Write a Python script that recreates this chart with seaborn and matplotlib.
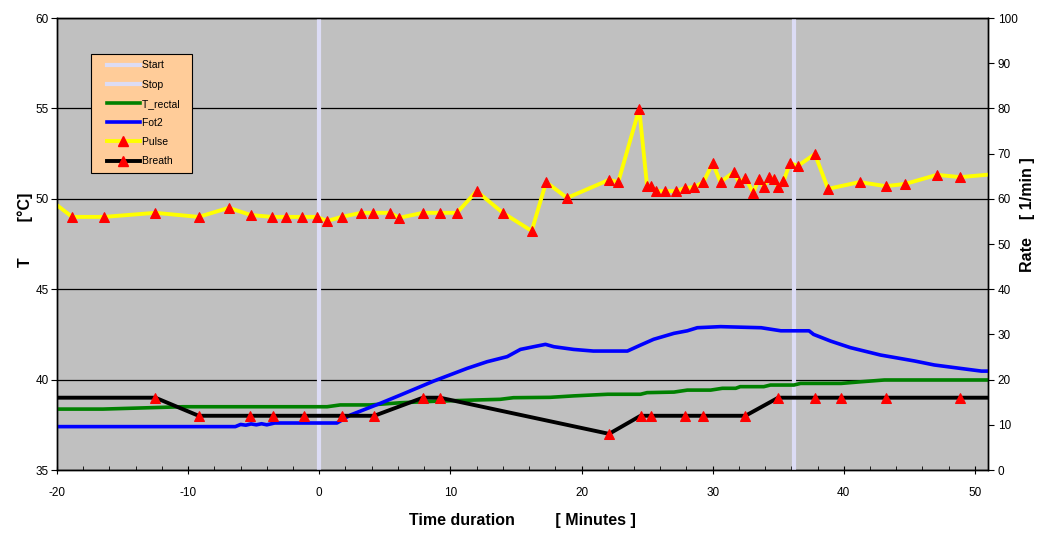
import pandas as pd
import seaborn as sns
import matplotlib.pyplot as plt
from matplotlib.lines import Line2D
from matplotlib.legend_handler import HandlerLine2D
from matplotlib.ticker import MultipleLocator

# event markers (minutes)
start_t = 0.0
stop_t = 36.2

# rectal temperature, degC
rectal_t = [-20.5, -16.5, -10.4, 0.6, 1.6, 3.9, 6.2, 8.7, 11.8, 13.8, 14.8, 17.6,
            19.4, 22.0, 24.5, 25.0, 27.05, 28.07, 29.85, 30.74, 31.76, 32.1, 33.9,
            34.4, 36.2, 36.7, 39.8, 41.3, 43.1, 52.0]
rectal_temp = [38.37, 38.37, 38.5, 38.5, 38.6, 38.6, 38.72, 38.8, 38.87, 38.91, 39.0, 39.02,
               39.1, 39.19, 39.19, 39.28, 39.31, 39.42, 39.42, 39.52, 39.52, 39.61, 39.61,
               39.7, 39.7, 39.79, 39.79, 39.88, 39.98, 39.98]

# Fot2 temperature, degC
fot2_t = [-20.5, -6.4, -6.0, -5.6, -5.2, -4.8, -4.4, -4.0, -3.4, 1.35, 2.37, 4.66, 6.2,
          8.73, 11.27, 12.8, 14.33, 15.34, 16.35, 17.25, 17.89, 19.4, 20.9, 23.5, 24.5,
          25.5, 27.05, 28.07, 28.83, 30.6, 33.7, 35.2, 37.35, 37.7, 39.0, 40.5, 42.8,
          45.4, 46.9, 48.9, 50.5, 52.0]
fot2_temp = [37.40, 37.40, 37.52, 37.48, 37.55, 37.5, 37.56, 37.5, 37.6, 37.6, 38.04, 38.69, 39.15,
             39.92, 40.62, 40.99, 41.27, 41.67, 41.82, 41.95, 41.82, 41.67, 41.58, 41.58, 41.91,
             42.23, 42.56, 42.7, 42.87, 42.93, 42.87, 42.7, 42.7, 42.5, 42.13, 41.77, 41.36,
             41.03, 40.81, 40.62, 40.47, 40.47]

# pulse, 1/min
pulse_t = [-20.8, -18.85, -16.4, -12.5, -9.2, -6.9, -5.2, -3.6, -2.5, -1.3, -0.2, 0.6, 1.7,
           3.2, 4.1, 5.4, 6.1, 7.9, 9.2, 10.5, 12.0, 14.0, 16.2, 17.3, 18.9, 22.1, 22.8,
           24.4, 25.0, 25.3, 25.7, 26.4, 27.2, 27.9, 28.6, 29.3, 30.0, 30.6, 31.6, 32.0,
           32.5, 33.1, 33.5, 33.9, 34.3, 34.7, 35.0, 35.4, 35.9, 36.5, 37.8, 38.8, 41.2,
           43.2, 44.7, 47.1, 48.9, 52.0]
pulse_rate = [60.4, 56.0, 56.0, 56.9, 56.0, 58.0, 56.4, 56.0, 56.0, 56.0, 56.0, 55.1, 56.0,
              56.9, 56.9, 56.9, 55.8, 56.9, 56.9, 56.9, 61.7, 56.9, 52.9, 63.7, 60.2, 64.2, 63.7,
              79.9, 62.8, 62.8, 61.7, 61.7, 61.7, 62.4, 62.6, 63.7, 67.9, 63.7, 65.9, 63.7,
              64.6, 61.3, 64.4, 62.6, 64.8, 64.4, 62.6, 63.9, 67.9, 67.3, 69.9, 62.2, 63.7,
              62.8, 63.3, 65.3, 64.8, 65.6]

# breath, 1/min
breath_t = [-21.0, -12.5, -9.2, -5.3, -3.5, -1.2, 1.7, 4.2, 7.9, 9.2, 22.1, 24.5, 25.3,
            27.9, 29.3, 32.5, 35.0, 37.8, 39.8, 43.2, 48.9, 52.0]
breath_rate = [16, 16, 12, 12, 12, 12, 12, 12, 16, 16, 8, 12, 12,
               12, 12, 12, 16, 16, 16, 16, 16, 16]

plt.rcParams['font.family'] = ['Liberation Sans', 'DejaVu Sans']
plt.rcParams['axes.unicode_minus'] = False

fig = plt.figure(figsize=(10.42, 5.36), dpi=100)
ax1 = fig.add_axes([0.0547, 0.1231, 0.8935, 0.8433])
ax1.set_facecolor('#C0C0C0')
ax2 = ax1.twinx()
ax2.patch.set_visible(False)

ev_col = '#DCDCF5'
ax1.axvline(start_t, color=ev_col, lw=3, zorder=3)
ax1.axvline(stop_t, color=ev_col, lw=3, zorder=3)

sns.lineplot(x=rectal_t, y=rectal_temp, ax=ax1, color='#008000', lw=2.6, sort=False, zorder=4)
sns.lineplot(x=fot2_t, y=fot2_temp, ax=ax1, color='#0000FF', lw=2.6, sort=False, zorder=5)

mk = dict(marker='^', markersize=6.5, markerfacecolor='#FF0000', markeredgecolor='#FF0000')
sns.lineplot(x=pulse_t, y=pulse_rate, ax=ax2, color='#FFFF00', lw=2.8, sort=False, **mk)
sns.lineplot(x=breath_t, y=breath_rate, ax=ax2, color='#000000', lw=2.8, sort=False, **mk)

ax1.set_xlim(-20, 51)
ax1.set_ylim(35, 60)
ax2.set_ylim(0, 100)
ax1.xaxis.set_major_locator(MultipleLocator(10))
ax1.xaxis.set_minor_locator(MultipleLocator(2))
ax1.yaxis.set_major_locator(MultipleLocator(5))
ax2.yaxis.set_major_locator(MultipleLocator(10))

ax1.grid(axis='y', color='black', lw=0.9)
ax1.set_axisbelow(True)
for ax in (ax1, ax2):
    for s in ax.spines.values():
        s.set_color('black')
        s.set_linewidth(1.0)

ax1.tick_params(axis='x', which='major', direction='inout', length=6, labelsize=8.5, pad=9)
ax1.tick_params(axis='x', which='minor', direction='in', length=3)
ax1.tick_params(axis='y', direction='out', length=4, labelsize=8.5, pad=2)
ax2.tick_params(axis='y', direction='out', length=4, labelsize=8.5, pad=3)

ax1.set_xlabel('Time duration         [ Minutes ]', fontsize=11.5, fontweight='bold', labelpad=10)
ax1.set_ylabel('T        [°C]', fontsize=11.5, fontweight='bold')
ax2.set_ylabel('Rate    [ 1/min ]', fontsize=11.5, fontweight='bold')
ax1.yaxis.set_label_coords(-0.026, 0.531)
ax2.yaxis.set_label_coords(1.034, 0.564)

handles = [
    Line2D([], [], color=ev_col, lw=3),
    Line2D([], [], color=ev_col, lw=3),
    Line2D([], [], color='#008000', lw=2.6),
    Line2D([], [], color='#0000FF', lw=2.6),
    Line2D([], [], color='#FFFF00', lw=2.8, **mk),
    Line2D([], [], color='#000000', lw=2.8, **mk),
]
labels = ['Start ', 'Stop ', 'T_rectal  ', 'Fot2 ', 'Pulse ', 'Breath ']
leg = ax2.legend(handles, labels, loc='upper left', bbox_to_anchor=(0.0365, 0.92),
                 fontsize=7.5, handlelength=4.1, labelspacing=0.88, handletextpad=0.2,
                 borderpad=0.6, borderaxespad=0, fancybox=False, framealpha=1,
                 handler_map={Line2D: HandlerLine2D(xpad=0.9)})
leg.get_frame().set_facecolor('#FFCC99')
leg.get_frame().set_edgecolor('black')
leg.get_frame().set_linewidth(0.8)

fig.savefig('out.png', dpi=100)
